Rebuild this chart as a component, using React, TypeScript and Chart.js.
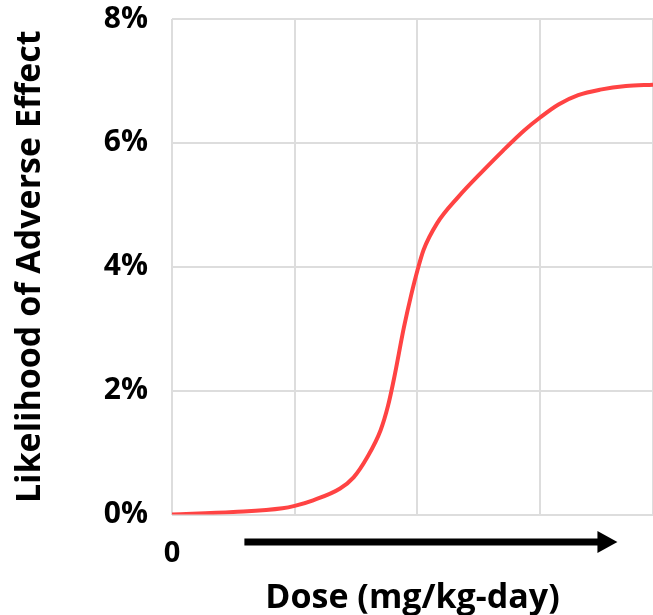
import React, { useEffect, useRef } from "react";
import { Chart, registerables } from "chart.js";

Chart.register(...registerables);

// Dose (arbitrary units, gridlines every 1) and likelihood (%)
const doseValues = [0, 0.5, 0.9, 1.0, 1.15, 1.37, 1.48, 1.59, 1.7, 1.76, 1.81, 1.89, 1.95, 2.0, 2.05, 2.16, 2.33, 2.54, 2.7, 2.87, 3.0, 3.15, 3.31, 3.49, 3.7, 3.92];
const likelihoodPct = [0, 0.04, 0.1, 0.14, 0.23, 0.42, 0.6, 0.92, 1.36, 1.75, 2.2, 3.02, 3.55, 3.94, 4.27, 4.7, 5.12, 5.56, 5.88, 6.2, 6.41, 6.62, 6.77, 6.86, 6.92, 6.94];
const yTickValues = [0, 2, 4, 6, 8];
const xTickLabel = "0";
const arrowRange = [0.59, 3.63];
const xTitle = "Dose (mg/kg-day)";
const yTitle = "Likelihood of Adverse Effect";

const FONT = "'Open Sans', sans-serif";

const arrowPlugin = {
  id: "doseArrow",
  afterDraw(chart: any) {
    const x = chart.scales.x;
    const ctx = chart.ctx;
    const x0 = x.getPixelForValue(arrowRange[0]);
    const x1 = x.getPixelForValue(arrowRange[1]);
    const y = chart.chartArea.bottom + 27.5;
    const head = 20;
    ctx.save();
    ctx.fillStyle = "#000";
    ctx.fillRect(x0, y - 3.5, x1 - head - x0 + 1, 7);
    ctx.beginPath();
    ctx.moveTo(x1 - head, y - 11);
    ctx.lineTo(x1, y);
    ctx.lineTo(x1 - head, y + 11);
    ctx.closePath();
    ctx.fill();
    ctx.restore();
  },
};

export default function App() {
  const ref = useRef<HTMLCanvasElement>(null);
  useEffect(() => {
    if (!ref.current) return;
    const chart = new Chart(ref.current, {
      type: "line",
      data: {
        datasets: [
          {
            data: doseValues.map((d, i) => ({ x: d, y: likelihoodPct[i] })),
            borderColor: "#ff4343",
            borderWidth: 4,
            pointRadius: 0,
            cubicInterpolationMode: "monotone",
            fill: false,
          },
        ],
      },
      plugins: [arrowPlugin],
      options: {
        animation: false,
        responsive: true,
        maintainAspectRatio: false,
        layout: { padding: { top: 19, right: 0, left: 0, bottom: 0 } },
        plugins: { legend: { display: false }, tooltip: { enabled: false } },
        scales: {
          x: {
            type: "linear",
            min: 0,
            max: doseValues[doseValues.length - 1],
            grid: { color: "#dddddd", lineWidth: 2, drawTicks: false },
            border: { display: false },
            ticks: {
              stepSize: 1,
              padding: 22,
              maxRotation: 0,
              autoSkip: false,
              color: "#000",
              font: { family: FONT, size: 29, weight: "bold" },
              callback: (v: any) => (v === 0 ? xTickLabel : ""),
            },
            title: {
              display: true,
              text: xTitle,
              color: "#000",
              font: { family: FONT, size: 34, weight: "bold", lineHeight: 1.1 },
              padding: { top: 0, bottom: -2 },
            },
            afterFit: (s: any) => {
              s.height = 100.5;
              s.paddingLeft = 0;
              s.paddingRight = 0;
            },
          },
          y: {
            min: 0,
            max: 8,
            afterBuildTicks: (s: any) => {
              s.ticks = yTickValues.map((v) => ({ value: v }));
            },
            grid: { color: "#dddddd", lineWidth: 2, drawTicks: false },
            border: { display: false },
            ticks: {
              padding: 24,
              color: "#000",
              font: { family: FONT, size: 30, weight: "bold" },
              callback: (v: any) => v + "%",
            },
            title: {
              display: true,
              text: yTitle,
              color: "#000",
              font: { family: FONT, size: 34, weight: "bold", lineHeight: 1.2 },
              padding: { top: 10, bottom: 0 },
            },
            afterFit: (s: any) => {
              s.width = 172;
              s.paddingTop = 0;
              s.paddingBottom = 0;
            },
          },
        },
      },
    } as any);
    return () => chart.destroy();
  }, []);
  return (
    <div style={{ position: "fixed", left: 0, top: 0, width: 653, height: 615, background: "#fff" }}>
      <canvas ref={ref} />
    </div>
  );
}
